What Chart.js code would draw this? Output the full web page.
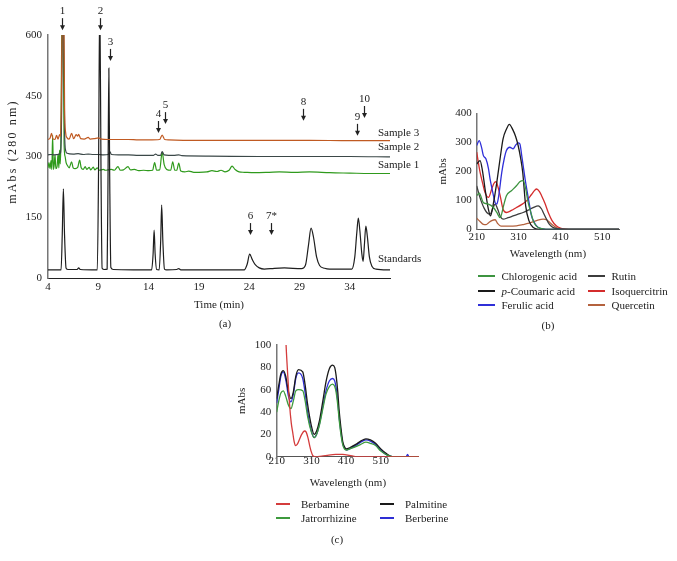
<!DOCTYPE html>
<html>
<head>
<meta charset="utf-8">
<script src="https://cdn.jsdelivr.net/npm/chart.js@4.4.0/dist/chart.umd.min.js"></script>
<style>
  html, body { margin: 0; padding: 0; background: #fff; }
  #wrap { position: relative; width: 677px; height: 561px; overflow: hidden;
          font-family: 'Liberation Serif', 'DejaVu Serif', serif; color: #222; font-size: 11px; }
  #wrap canvas { position: absolute; left: 0; top: 0; }
  .tag { position: absolute; transform: translate(-50%, -50%); }
  .swatch { position: absolute; height: 1.6px; }
  .ltext { position: absolute; line-height: 14px; white-space: nowrap; }
</style>
</head>
<body>
<div id="wrap">
  <canvas id="chartA" width="677" height="561"></canvas>
  <canvas id="chartB" width="677" height="561"></canvas>
  <canvas id="chartC" width="677" height="561"></canvas>
  <div class="tag" style="left:225px; top:323px;">(a)</div>
  <div class="tag" style="left:548px; top:325px;">(b)</div>
  <div class="tag" style="left:337px; top:539px;">(c)</div>
</div>
<script>
// ---- (a) HPLC chromatogram, 280 nm: [time (min), mAbs] ----
const timeTicks = [4, 9, 14, 19, 24, 29, 34];
const absTicks = [0, 150, 300, 450, 600];

const standards = [
  [4.0, 20], [5.3, 20], [5.42, 110], [5.53, 220], [5.64, 110], [5.8, 24], [6.0, 21], [6.9, 21], [7.05, 25], [7.2, 21],
  [8.9, 20], [9.02, 250], [9.15, 700], [9.27, 260], [9.38, 24], [9.6, 21], [9.88, 22], [9.97, 260], [10.05, 518],
  [10.13, 260], [10.25, 26], [10.5, 21], [13.0, 20], [14.3, 20], [14.45, 60], [14.55, 118], [14.65, 60], [14.8, 21],
  [15.05, 20], [15.2, 90], [15.3, 180], [15.42, 90], [15.58, 22], [15.8, 20], [16.8, 21], [17.0, 23], [17.2, 20],
  [23.5, 20], [23.8, 34], [24.05, 59], [24.3, 46], [24.6, 33], [25.0, 25], [25.5, 22], [26.5, 24], [27.5, 25],
  [29.2, 23], [29.6, 32], [29.9, 82], [30.15, 123], [30.4, 100], [30.7, 52], [31.0, 31], [31.5, 24], [32.0, 22],
  [34.2, 22], [34.5, 52], [34.7, 112], [34.85, 148], [35.0, 118], [35.2, 60], [35.33, 41], [35.45, 80], [35.6, 128],
  [35.75, 102], [35.95, 52], [36.2, 29], [36.6, 22], [38.0, 20]
];
const sample1 = [
  [4.0, 272], [4.1, 285], [4.2, 270], [4.3, 290], [4.38, 268], [4.46, 352], [4.54, 268], [4.62, 280], [4.7, 304],
  [4.78, 270], [4.9, 275], [5.0, 306], [5.08, 272], [5.15, 316], [5.22, 282], [5.3, 360], [5.38, 640], [5.5, 640],
  [5.6, 330], [5.7, 300], [5.8, 285], [5.95, 277], [6.1, 272], [6.35, 287], [6.5, 272], [6.7, 270], [6.95, 273],
  [7.15, 291], [7.3, 272], [7.5, 268], [7.7, 275], [7.85, 268], [8.1, 273], [8.25, 267], [8.5, 274], [8.65, 267],
  [8.9, 272], [9.1, 266], [9.5, 268], [9.7, 266], [10.0, 267], [10.3, 268], [10.6, 266], [10.95, 275], [11.2, 266],
  [11.5, 267], [11.95, 275], [12.2, 267], [12.6, 268], [13.0, 265], [13.5, 266], [14.0, 265], [14.4, 266],
  [14.6, 285], [14.8, 266], [15.1, 267], [15.35, 310], [15.55, 280], [15.8, 268], [16.2, 266], [16.4, 287],
  [16.6, 266], [16.8, 266], [17.0, 284], [17.2, 264], [17.6, 262], [18.0, 264], [18.5, 261], [19.0, 261],
  [19.8, 262], [20.3, 265], [20.8, 263], [21.2, 266], [21.6, 262], [22.0, 266], [22.3, 276], [22.6, 268],
  [23.0, 262], [23.5, 261], [24.5, 260], [26.0, 261], [27.0, 262], [28.5, 261], [30.0, 262], [32.0, 260],
  [34.0, 259], [36.0, 258], [38.0, 258]
];
const sample2 = [
  [4.0, 304], [4.3, 305], [4.6, 304], [5.0, 305], [5.25, 310], [5.35, 400], [5.45, 640], [5.55, 640], [5.65, 360],
  [5.75, 315], [5.9, 308], [6.5, 306], [7.0, 307], [7.5, 305], [8.0, 306], [8.5, 305], [9.0, 305], [9.5, 304],
  [10.0, 305], [10.15, 312], [10.3, 305], [11.0, 304], [12.0, 304], [13.0, 303], [14.5, 303], [14.7, 306],
  [14.9, 303], [15.2, 303], [15.35, 312], [15.55, 304], [16.0, 303], [16.5, 303], [17.0, 304], [17.3, 302],
  [20.0, 301], [25.0, 300], [30.0, 300], [34.0, 300], [38.0, 299]
];
const sample3 = [
  [4.0, 342], [4.2, 345], [4.35, 357], [4.5, 343], [4.7, 342], [4.85, 352], [5.0, 343], [5.15, 354], [5.25, 350],
  [5.33, 450], [5.43, 660], [5.57, 660], [5.65, 420], [5.75, 360], [5.9, 346], [6.1, 343], [6.35, 357], [6.55, 344],
  [6.8, 354], [6.95, 350], [7.05, 355], [7.25, 344], [7.6, 343], [8.0, 347], [8.2, 343], [8.6, 344], [9.0, 346],
  [9.3, 343], [10.0, 342], [11.0, 342], [12.0, 342], [13.0, 341], [14.0, 341], [15.1, 342], [15.35, 353],
  [15.6, 342], [16.0, 341], [18.0, 340], [22.0, 340], [26.0, 340], [30.0, 340], [34.0, 339], [38.0, 339]
];
// peak arrows: [label, time, arrow tip level]
const peakMarks = [
  ['1', 5.4, 612], ['2', 9.15, 612], ['3', 10.14, 536], ['4', 14.9, 358], ['5', 15.68, 380],
  ['6', 24.1, 106], ['7*', 26.2, 106], ['8', 29.35, 388], ['9', 34.7, 351], ['10', 35.4, 395]
];
// trace name labels: [label, time, level]
const traceMarks = [
  ['Sample 3', 36.8, 358], ['Sample 2', 36.8, 322], ['Sample 1', 36.8, 279], ['Standards', 36.8, 46]
];

// ---- (b) UV spectra of phenolics: [wavelength (nm), mAbs] ----
const wlTicksB = [210, 310, 410, 510];
const mAbsTicksB = [0, 100, 200, 300, 400];
const chlorogenic = [
  [210, 116], [216, 125], [226, 92], [238, 87], [250, 75], [258, 58], [266, 40], [274, 80], [281, 116], [293, 133],
  [305, 150], [313, 164], [321, 168], [327, 140], [333, 92], [340, 55], [345, 29], [352, 12], [360, 4], [375, 0], [550, 0]
];
const pCoumaric = [
  [210, 225], [218, 237], [224, 200], [230, 139], [238, 69], [243, 46], [250, 90], [258, 162], [266, 245], [273, 312],
  [281, 345], [288, 362], [297, 341], [303, 320], [309, 289], [315, 245], [320, 196], [327, 81], [335, 29], [345, 6],
  [360, 0], [550, 0]
];
const ferulic = [
  [210, 289], [216, 306], [222, 280], [226, 254], [232, 243], [238, 210], [242, 173], [248, 130], [254, 92], [258, 87],
  [262, 110], [270, 197], [276, 245], [281, 272], [289, 283], [297, 277], [303, 290], [309, 298], [313, 295],
  [318, 250], [321, 220], [326, 170], [331, 127], [336, 85], [341, 46], [347, 25], [353, 12], [362, 3], [375, 0], [550, 0]
];
const rutin = [
  [210, 150], [216, 118], [222, 92], [228, 72], [234, 58], [242, 52], [248, 70], [254, 87], [260, 70], [266, 46],
  [273, 35], [285, 40], [297, 46], [309, 52], [321, 58], [333, 66], [345, 75], [357, 81], [365, 70], [369, 58],
  [375, 40], [381, 23], [387, 12], [393, 6], [405, 1], [420, 0], [550, 0]
];
const isoquercitrin = [
  [210, 266], [214, 230], [218, 197], [224, 160], [230, 127], [238, 110], [246, 139], [251, 158], [256, 164],
  [261, 145], [266, 116], [273, 69], [281, 58], [293, 65], [305, 75], [317, 85], [329, 98], [341, 120], [349, 135],
  [353, 139], [360, 130], [365, 116], [373, 90], [381, 58], [390, 30], [400, 12], [410, 4], [420, 1], [430, 0], [550, 0]
];
const quercetin = [
  [210, 38], [218, 27], [226, 17], [232, 16], [238, 22], [246, 30], [254, 33], [260, 20], [268, 11], [285, 11],
  [305, 12], [320, 16], [335, 21], [353, 30], [369, 35], [378, 32], [385, 23], [393, 13], [400, 6], [410, 1],
  [420, 0], [550, 0]
];

// ---- (c) UV spectra of alkaloids: [wavelength (nm), mAbs] ----
const wlTicksC = [210, 310, 410, 510];
const mAbsTicksC = [0, 20, 40, 60, 80, 100];
const berbamine = [
  [232, 140], [237, 100], [242, 72], [247, 47], [252, 30], [256, 22], [260, 14], [264, 10], [269, 11], [275, 15],
  [282, 20], [290, 23], [295, 22], [300, 17], [305, 10], [309, 5], [314, 1], [320, 0], [340, 0.5], [360, 1.5],
  [380, 2], [400, 2], [415, 1.5], [430, 0.5], [440, 0], [620, 0]
];
const jatrorrhizine = [
  [210, 40], [216, 50], [222, 57], [229, 59], [236, 54], [244, 46], [251, 43], [258, 50], [265, 59], [273, 60],
  [285, 59], [292, 50], [299, 36], [309, 23], [318, 17], [325, 20], [333, 28], [343, 43], [352, 56], [362, 63],
  [371, 65], [377, 63], [381, 58], [386, 46], [390, 33], [395, 20], [400, 11], [405, 7], [411, 6], [420, 7],
  [438, 9], [452, 11], [467, 13], [480, 12], [495, 10], [510, 5], [525, 2], [543, 0], [620, 0]
];
const palmitine = [
  [210, 52], [216, 64], [222, 74], [229, 77], [236, 72], [244, 58], [251, 52], [258, 58], [265, 72], [273, 78],
  [285, 76], [292, 64], [299, 47], [309, 29], [318, 20], [325, 23], [333, 32], [343, 50], [352, 67], [362, 79],
  [371, 82], [377, 80], [381, 73], [386, 58], [390, 41], [395, 26], [400, 14], [405, 9], [411, 7], [420, 8],
  [438, 11], [452, 14], [467, 16], [480, 15], [495, 12], [510, 7], [525, 3], [543, 0], [620, 0]
];
const berberine = [
  [210, 48], [216, 60], [222, 72], [229, 76], [236, 69], [244, 54], [251, 49], [258, 56], [265, 70], [273, 75],
  [285, 70], [292, 57], [299, 40], [309, 24], [318, 17], [325, 20], [333, 29], [343, 45], [352, 59], [362, 68],
  [371, 70], [377, 68], [381, 62], [386, 49], [390, 35], [395, 22], [400, 12], [405, 8], [411, 6], [420, 7],
  [438, 10], [452, 13], [467, 15], [480, 14], [495, 11], [510, 6], [525, 2], [543, 0], [583, 0], [587, 2],
  [591, 0], [620, 0]
];

const serif = "'Liberation Serif', 'DejaVu Serif', serif";
Chart.defaults.font.family = serif;
Chart.defaults.font.size = 11;
Chart.defaults.color = '#222';

const toXY = pts => pts.map(p => ({ x: p[0], y: p[1] }));

function line(label, pts, color, order, width) {
  return {
    label, data: toXY(pts), borderColor: color, backgroundColor: color,
    borderWidth: width || 1.2, pointRadius: 0, cubicInterpolationMode: 'monotone', fill: false, order
  };
}

function xAxis(ticksArr, min, max, height, tickPad, title, borderColor) {
  return {
    type: 'linear', min, max,
    afterBuildTicks: s => { s.ticks = ticksArr.map(v => ({ value: v })); },
    afterFit: s => { s.height = height; },
    grid: { display: false, drawTicks: false },
    border: { color: borderColor, width: 1 },
    ticks: { padding: tickPad, maxRotation: 0, autoSkip: false },
    title: { display: true, text: title, padding: 0 }
  };
}

function yAxis(ticksArr, max, width, tickPad, title, titlePad, borderColor, showTitle) {
  return {
    type: 'linear', min: 0, max,
    afterBuildTicks: s => { s.ticks = ticksArr.map(v => ({ value: v })); },
    afterFit: s => { s.width = width; },
    grid: { display: false, drawTicks: false },
    border: { color: borderColor, width: 1.5 },
    ticks: { padding: tickPad },
    title: { display: showTitle !== false, text: title, padding: { top: titlePad, bottom: 0 } }
  };
}

// arrows, trace names and the spaced-out y title of the chromatogram
const chromMarks = {
  id: 'chromMarks',
  afterDatasetsDraw(chart) {
    const { ctx, chartArea, scales: { x, y } } = chart;
    ctx.save();
    ctx.fillStyle = '#222';
    ctx.strokeStyle = '#222';
    ctx.font = '11px ' + serif;
    ctx.textAlign = 'center';
    ctx.textBaseline = 'middle';
    peakMarks.forEach(([txt, t, tip]) => {
      const px = Math.round(x.getPixelForValue(t)) + 0.5;
      const py = y.getPixelForValue(tip);
      ctx.lineWidth = 1.2;
      ctx.beginPath();
      ctx.moveTo(px, py - 12);
      ctx.lineTo(px, py - 3);
      ctx.stroke();
      ctx.beginPath();
      ctx.moveTo(px - 2.5, py - 5);
      ctx.lineTo(px + 2.5, py - 5);
      ctx.lineTo(px, py);
      ctx.closePath();
      ctx.fill();
      ctx.fillText(txt, px, py - 19);
    });
    ctx.textAlign = 'left';
    traceMarks.forEach(([txt, t, lvl]) => {
      ctx.fillText(txt, x.getPixelForValue(t), y.getPixelForValue(lvl));
    });
    // y-axis title, letter-spaced like the original
    ctx.translate(y.left + 13, (chartArea.top + chartArea.bottom) / 2 - 5);
    ctx.rotate(-Math.PI / 2);
    ctx.font = '12px ' + serif;
    ctx.textAlign = 'center';
    if ('letterSpacing' in ctx) ctx.letterSpacing = '2.2px';
    ctx.fillText(y.options.title.text, 0, 0);
    ctx.restore();
  }
};

new Chart(document.getElementById('chartA'), {
  type: 'line',
  data: {
    datasets: [
      line('Sample 3', sample3, '#c05a22', 0),
      line('Standards', standards, '#1e1e1e', 1),
      line('Sample 2', sample2, '#3b4848', 2),
      line('Sample 1', sample1, '#2f9a1c', 3)
    ]
  },
  options: {
    responsive: false, animation: false, devicePixelRatio: 1,
    layout: { padding: { left: 0, top: 35, right: 287, bottom: 249 } },
    plugins: { legend: { display: false }, tooltip: { enabled: false } },
    scales: {
      x: xAxis(timeTicks, 4, 38, 34, 3, 'Time (min)', '#222'),
      y: yAxis(absTicks, 600, 48, 6, 'mAbs (280 nm)', 6.4, '#777', false)
    }
  },
  plugins: [chromMarks]
});

const phenolics = [
  ['Chlorogenic acid', chlorogenic, '#3d9440'],
  ['p-Coumaric acid', pCoumaric, '#1a1a1a'],
  ['Ferulic acid', ferulic, '#2f2fd8'],
  ['Rutin', rutin, '#3c3c3c'],
  ['Isoquercitrin', isoquercitrin, '#d42c2c'],
  ['Quercetin', quercetin, '#b4623e']
];
const alkaloids = [
  ['Berbamine', berbamine, '#d43c3c'],
  ['Jatrorrhizine', jatrorrhizine, '#3d9a3d'],
  ['Palmitine', palmitine, '#1a1a1a'],
  ['Berberine', berberine, '#2e2ed4']
];

new Chart(document.getElementById('chartB'), {
  type: 'line',
  data: { datasets: phenolics.map((s, i) => line(s[0], s[1], s[2], i, 1.3)) },
  options: {
    responsive: false, animation: false, devicePixelRatio: 1,
    layout: { padding: { left: 436.7, top: 113.3, right: 58, bottom: 300.4 } },
    plugins: { legend: { display: false }, tooltip: { enabled: false } },
    scales: {
      x: xAxis(wlTicksB, 210, 550, 31.3, 0.8, 'Wavelength (nm)', '#555'),
      y: yAxis(mAbsTicksB, 400, 40, 5, 'mAbs', 0, '#777')
    }
  }
});

new Chart(document.getElementById('chartC'), {
  type: 'line',
  data: { datasets: alkaloids.map((s, i) => line(s[0], s[1], s[2], i, 1.3)) },
  options: {
    responsive: false, animation: false, devicePixelRatio: 1,
    layout: { padding: { left: 235.2, top: 345, right: 258, bottom: 71.7 } },
    plugins: { legend: { display: false }, tooltip: { enabled: false } },
    scales: {
      x: xAxis(wlTicksC, 210, 620, 32.6, -2, 'Wavelength (nm)', '#555'),
      y: yAxis(mAbsTicksC, 100, 41.5, 5.5, 'mAbs', 0, '#777')
    }
  }
});

// two-column legends below panels (b) and (c)
function legend(series, cols, rows, lineLen, gap) {
  const wrap = document.getElementById('wrap');
  series.forEach((s, i) => {
    const col = cols[Math.floor(i / rows.length)];
    const y = rows[i % rows.length];
    const sw = document.createElement('div');
    sw.className = 'swatch';
    sw.style.cssText = `left:${col}px; top:${Math.round(y)}px; width:${lineLen}px; background:${s[2]};`;
    wrap.appendChild(sw);
    const tx = document.createElement('div');
    tx.className = 'ltext';
    tx.style.cssText = `left:${col + lineLen + gap}px; top:${Math.round(y) - 6.5}px;`;
    tx.innerHTML = s[0].replace(/^p-/, '<i>p</i>-');
    wrap.appendChild(tx);
  });
}
legend(phenolics, [478, 588], [275, 289.5, 303.5], 17, 6.5);
legend(alkaloids, [276, 380], [503.3, 517.3], 14, 11);
</script>
</body>
</html>
